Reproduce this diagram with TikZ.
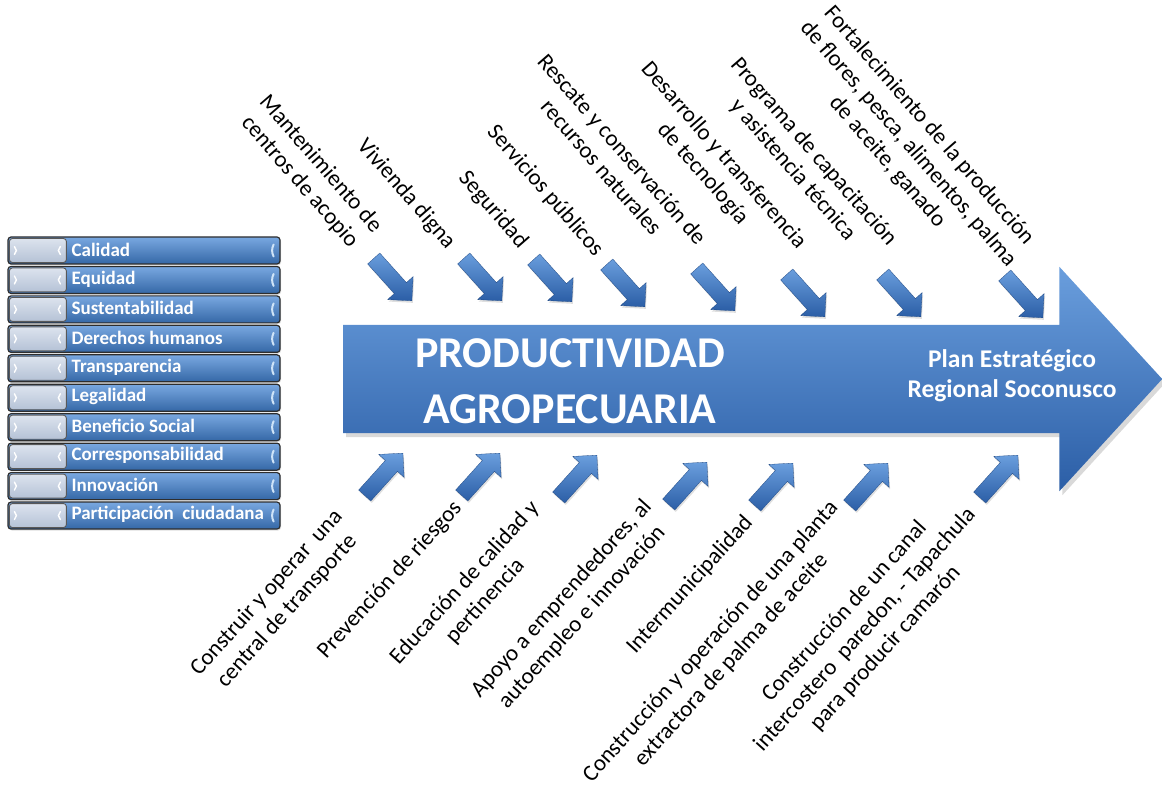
\documentclass[tikz,border=0pt]{standalone}
\usepackage{fontspec}
\setmainfont{Carlito}
\usetikzlibrary{shapes.arrows,shadows}

\definecolor{blueup}{HTML}{6A9EDD}
\definecolor{bluemid}{HTML}{3E7AC4}
\definecolor{bluelow}{HTML}{2B5EA6}
\definecolor{capup}{HTML}{DCE3EE}
\definecolor{caplow}{HTML}{B5C2D6}
\definecolor{rimgray}{HTML}{2E2E2E}
\definecolor{glint}{HTML}{CFE4F8}

\tikzset{
  bigarrow/.style={single arrow, draw=none, top color=blueup, middle color=bluemid, bottom color=bluelow,
    minimum height=819pt, inner xsep=0pt, inner ysep=54pt,
    single arrow head extend=58pt, single arrow tip angle=95,
    drop shadow={opacity=.3, shadow xshift=3pt, shadow yshift=-4pt}},
  minarrow/.style={single arrow, draw=bluelow!80!black, line width=.3pt,
    top color=blueup, bottom color=bluelow,
    minimum height=57pt, inner xsep=0pt, inner ysep=8pt,
    single arrow head extend=9pt, anchor=tip,
    drop shadow={opacity=.25, shadow xshift=1pt, shadow yshift=-2pt}},
  downarrow/.style={minarrow, rotate=-48},
  uparrow/.style={minarrow, rotate=48},
  topnote/.style={rotate=-49, align=center, inner sep=0pt, font=\fontsize{23}{27.5}\selectfont},
  lownote/.style={rotate=48, align=center, inner sep=0pt, font=\fontsize{23}{27.5}\selectfont},
  valbar/.style={rounded corners=3pt, draw=rimgray, line width=1.2pt,
    top color=blueup!90!white, bottom color=bluemid!85!black,
    minimum width=272pt, minimum height=27pt, inner sep=0pt,
    drop shadow={opacity=.25, shadow xshift=1pt, shadow yshift=-1.5pt}},
  valcap/.style={rounded corners=3pt, draw=rimgray!80, line width=.9pt,
    top color=capup, bottom color=caplow, minimum width=57pt, minimum height=24pt, inner sep=0pt},
  valtext/.style={anchor=west, inner sep=0pt, text=white, font=\fontsize{19}{21}\selectfont\bfseries},
  tick/.style={draw=white, line width=1.4pt, line cap=round},
  glinttick/.style={draw=glint, line width=2pt, line cap=round}
}

\begin{document}
\begin{tikzpicture}[x=1pt, y=-1pt]
\useasboundingbox (0,0) rectangle (1162,791);

\node[bigarrow, anchor=tail] (main) at (343,379) {};
\node[align=center, text=white, font=\fontsize{44}{56}\selectfont\bfseries] (title) at (570,381)
  {PRODUCTIVIDAD\\AGROPECUARIA};
\node[align=center, text=white, font=\fontsize{25.5}{30}\selectfont\bfseries] (plan) at (1012,376)
  {Plan Estratégico\\Regional Soconusco};

\foreach \name [count=\i] in {Calidad, Equidad, Sustentabilidad, Derechos humanos, Transparencia,
    Legalidad, Beneficio Social, Corresponsabilidad, Innovación, Participación\ \ ciudadana} {
  \node[valbar] (bar\i) at (144,{250.5+29.45*(\i-1)}) {};
  \node[valcap] (cap\i) at ([xshift=30.5pt]bar\i.west) {};
  \node[valtext] (val\i) at ([xshift=64pt,yshift=1pt]bar\i.west) {\name};
  \draw[tick] ([xshift=7pt,yshift=4pt]bar\i.west) -- ++(2,4) -- ++(-2,4);
  \draw[tick] ([xshift=53pt,yshift=4pt]bar\i.west) -- ++(-2,4) -- ++(2,4);
  \draw[glinttick] ([xshift=-7pt,yshift=6pt]bar\i.east) to[bend right=25] ++(0,12);
}

\foreach \tx/\ty [count=\i] in {412/301, 502/301, 572/302, 645/307, 735/311, 825/317, 921/317, 1043/318}
  \node[downarrow] (down\i) at (\tx,\ty) {};

\foreach \tx/\ty [count=\i] in {403/453, 500/453, 597/455, 707/462, 793/463, 888/463, 1018/455}
  \node[uparrow] (up\i) at (\tx,\ty) {};

\node[topnote] (top1) at (310,173) {Mantenimiento de\\centros de acopio};
\node[topnote] (top2) at (406,194) {Vivienda digna};
\node[topnote] (top3) at (493,210) {Seguridad};
\node[topnote] (top4) at (545,191) {Servicios públicos};
\node[topnote] (top5) at (612,158) {Rescate y conservación de\\recursos naturales};
\node[topnote] (top6) at (713,165) {Desarrollo y transferencia\\de tecnología};
\node[topnote] (top7) at (803,161) {Programa de capacitación\\y asistencia técnica};
\node[topnote] (top8) at (908,144) {Fortalecimiento de la producción\\de flores, pesca, alimentos, palma\\de aceite, ganado};

\node[lownote] (low1) at (277,602) {Construir y operar\ \ una\\central de transporte};
\node[lownote] (low2) at (390,580) {Prevención de riesgos};
\node[lownote] (low3) at (475,592) {Educación de calidad y\\pertinencia};
\node[lownote] (low4) at (572,608) {Apoyo a emprendedores, al\\autoempleo e innovación};
\node[lownote] (low5) at (690,585) {Intermunicipalidad};
\node[lownote] (low6) at (721,651) {Construcción y operación de una planta\\extractora de palma de aceite};
\node[lownote] (low7) at (865,630) {Construcción de un canal\\intercostero\ \ paredon, - Tapachula\\para producir camarón};
\end{tikzpicture}
\end{document}
